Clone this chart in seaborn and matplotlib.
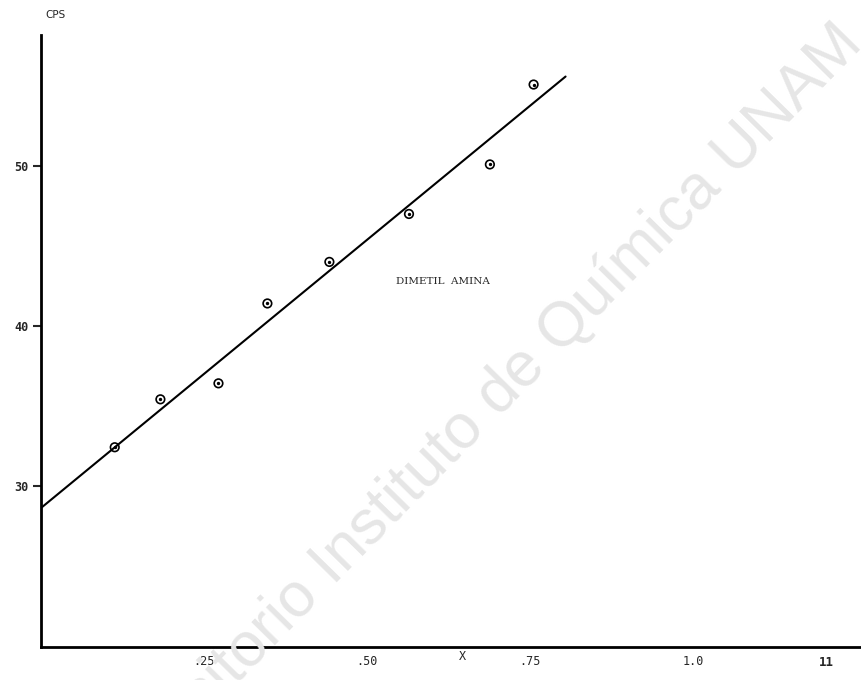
import matplotlib
matplotlib.use("Agg")
import matplotlib.pyplot as plt
import seaborn as sns
import pandas as pd

# Data
x_vals = [0.113, 0.183, 0.272, 0.347, 0.442, 0.564, 0.688, 0.755]
cps_vals = [32.4, 35.4, 36.4, 41.4, 44.0, 47.0, 50.1, 55.1]
fit_x = [0.0, 0.804]
fit_y = [28.6, 55.6]
x_ticks = [0.25, 0.50, 0.75, 1.0]
x_tick_labels = [".25", ".50", ".75", "1.0"]
y_ticks = [30, 40, 50]
y_tick_labels = ["30", "40", "50"]

pts = pd.DataFrame({"x": x_vals, "cps": cps_vals})
fit = pd.DataFrame({"x": fit_x, "cps": fit_y})

sns.set_style("white")
plt.rcParams["font.family"] = ["DejaVu Sans Mono", "DejaVu Sans"]

fig = plt.figure(figsize=(8.61, 6.80), dpi=100)
ax = fig.add_axes([41 / 861, 1 - 647 / 680, 1 - 41 / 861 + 0.01, (647 - 35) / 680])

# watermark
fig.text(470 / 861, 1 - 423 / 680, "Repositorio Instituto de Química UNAM", fontsize=45,
         family="Liberation Sans", color="#e6e6e6", rotation=45.5,
         rotation_mode="anchor", ha="center", va="center", zorder=0)

sns.lineplot(data=fit, x="x", y="cps", ax=ax, color="black", linewidth=1.5)
sns.scatterplot(data=pts, x="x", y="cps", ax=ax, marker="o", s=38,
                facecolor="none", edgecolor="black", linewidth=1.2)
ax.scatter(x_vals, cps_vals, s=2, color="black")

ax.set_xlim(0, 1.27)
ax.set_ylim(19.9, 58.2)
ax.set_xticks(x_ticks)
ax.set_xticklabels(x_tick_labels, fontsize=8.5)
ax.set_yticks(y_ticks)
ax.set_yticklabels(y_tick_labels, fontsize=8.5, fontweight="bold")
ax.tick_params(axis="x", length=0, pad=6)
ax.tick_params(axis="y", length=6, width=1.5, pad=3, direction="out", left=True)
ax.set_xlabel("")
ax.set_ylabel("")
for s in ["top", "right"]:
    ax.spines[s].set_visible(False)
for s in ["left", "bottom"]:
    ax.spines[s].set_linewidth(2)
    ax.spines[s].set_color("black")
ax.patch.set_alpha(0)

fig.text(55 / 861, 1 - 15 / 680, "CPS", fontsize=7.5, ha="center", va="center",
         family="DejaVu Sans")
fig.text(443 / 861, 1 - 281 / 680, "DIMETIL  AMINA", fontsize=7.5, ha="center",
         va="center", family="DejaVu Serif")
fig.text(462 / 861, 1 - 657 / 680, "X", fontsize=8.5, ha="center", va="center")
fig.text(826 / 861, 1 - 663 / 680, "11", fontsize=9, ha="center", va="center",
         fontweight="bold")

fig.savefig("out.png", dpi=100)
